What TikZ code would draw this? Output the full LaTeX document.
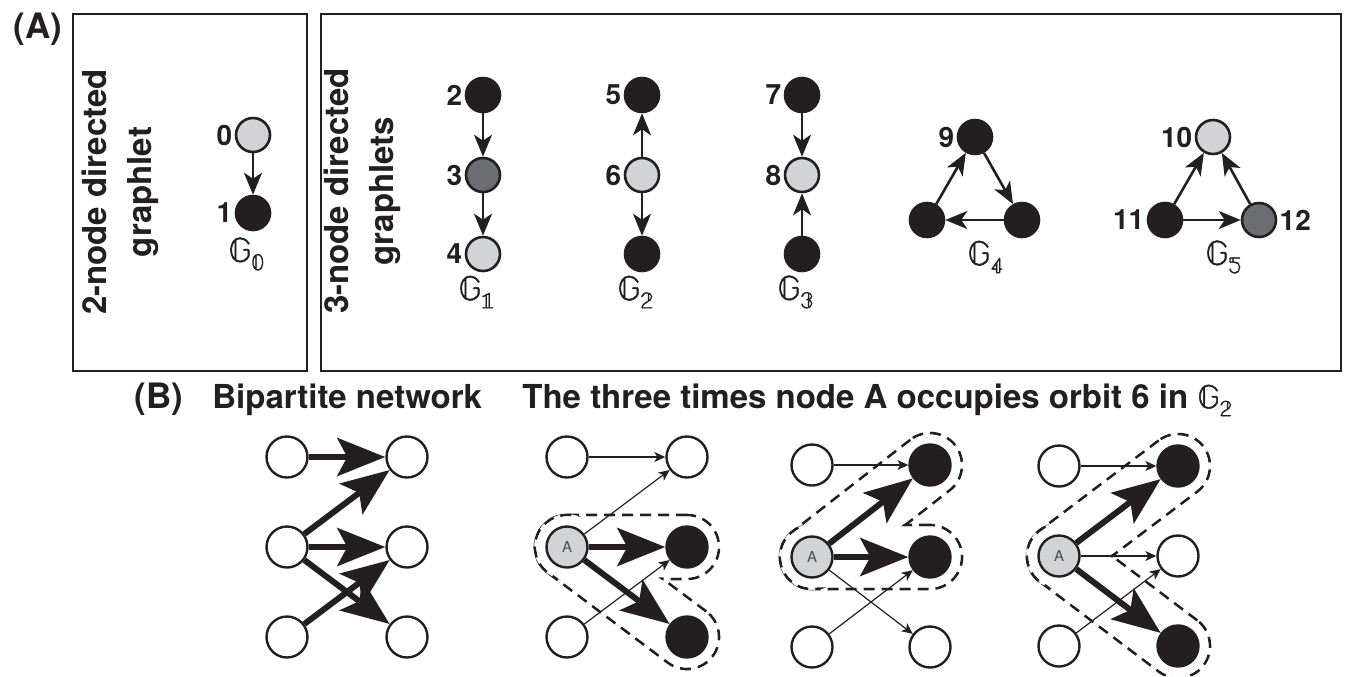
\documentclass[tikz,border=0pt]{standalone}
\usepackage{fontspec}
\usepackage{unicode-math}
\setmainfont{TeX Gyre Heros}
\setmathfont{Latin Modern Math}[FakeBold=1.5]
\usetikzlibrary{arrows.meta,calc}

\definecolor{ink}{HTML}{231F20}
\definecolor{lightnode}{HTML}{D1D3D4}
\definecolor{darknode}{HTML}{6D6E71}

\tikzset{
  frame/.style={draw=ink, line width=1.2pt},
  gnode/.style={circle, draw=ink, line width=1.3pt, minimum size=17pt, inner sep=0pt},
  blk/.style={gnode, fill=ink},
  lgt/.style={gnode, fill=lightnode},
  drk/.style={gnode, fill=darknode},
  garc/.style={draw=ink, line width=1.3pt, -{Stealth[length=11pt,width=9pt,inset=3pt]}},
  num/.style={font=\bfseries\fontsize{14}{14}\selectfont, text=ink, inner sep=1pt},
  glabel/.style={font=\fontsize{17}{17}\selectfont, text=ink, inner sep=0pt},
  vtitle/.style={rotate=90, align=center, text=ink, font=\bfseries\fontsize{16.5}{22.5}\selectfont},
  htitle/.style={anchor=base west, inner sep=0pt, text=ink, font=\bfseries\fontsize{16.5}{16.5}\selectfont},
  plabel/.style={htitle, font=\bfseries\fontsize{17.5}{17.5}\selectfont},
  bnode/.style={circle, draw=ink, line width=1.2pt, minimum size=20.5pt, inner sep=0pt, fill=white},
  wnode/.style={bnode},
  knode/.style={bnode, fill=ink},
  anode/.style={bnode, fill=lightnode, text=ink!80, font=\fontsize{7.5}{7.5}\selectfont},
  thk/.style={draw=ink, line width=3pt, -{Stealth[length=24pt,width=19pt,inset=5pt]}},
  thn/.style={draw=ink, line width=0.6pt, -{Stealth[length=5.5pt,width=5pt,inset=1.5pt]}},
  hulldash/.style={draw=ink, line width=1.3pt, dash pattern=on 5.5pt off 3.5pt},
  hullline/.style={rectangle, hulldash, minimum height=32pt, rounded corners=16pt,
    inner sep=0pt, outer sep=0pt},
  hullfill/.style={rectangle, fill=white, minimum height=30.4pt, rounded corners=15.2pt,
    inner sep=0pt, outer sep=0pt},
}

% dashed capsule round two points (its cap round the first point left out),
% and the capsule's white interior
\newcommand\hullline[2]{%
  \begin{scope}[even odd rule]
    \clip (0,0) rectangle (1349,676) (#1) circle[radius=33];
    \path let \p1=($(#2)-(#1)$), \n1={atan2(\y1,\x1)}, \n2={veclen(\x1,\y1)} in
      ($(#1)!0.5!(#2)$) node[hullline, minimum width=\n2+32pt, rotate=\n1] {};
  \end{scope}}
\newcommand\hullfill[2]{%
  \path let \p1=($(#2)-(#1)$), \n1={atan2(\y1,\x1)}, \n2={veclen(\x1,\y1)} in
    ($(#1)!0.5!(#2)$) node[hullfill, minimum width=\n2+30.4pt, rotate=\n1] {};}
% a hull enclosing a hub and two of its neighbours
\newcommand\hulltriple[3]{%
  \draw[hulldash] (#1) circle[radius=32];
  \hullline{#1}{#2}
  \hullline{#1}{#3}
  \hullfill{#1}{#2}
  \hullfill{#1}{#3}
  \fill[white] (#1) circle[radius=30.4];}

\begin{document}
\begin{tikzpicture}[x=0.5pt,y=-0.5pt]
\useasboundingbox (0,0) rectangle (1349,676);

% ---------- (A) graphlets ----------
\node[plabel] (labA) at (13,38) {(A)};
\draw[frame] (73,14) rectangle (307,371);
\draw[frame] (321,14) rectangle (1341,371);

\node[vtitle] (t2) at (120,192) {2-node directed\\graphlet};
\node[vtitle] (t3) at (362,191) {3-node directed\\graphlets};

% G0
\node[lgt] (n0) at (253,135) {};
\node[blk] (n1) at (253,213) {};
\draw[garc] (n0) -- (n1);
\node[num, anchor=east] (l0) at (n0.west) {0};
\node[num, anchor=east] (l1) at (n1.west) {1};
\node[glabel] (g0) at (247,254) {$\mathbb{G}_{\mathbb{0}}$};

% G1
\node[blk] (n2) at (483,95) {};
\node[drk] (n3) at (483,175) {};
\node[lgt] (n4) at (483,254) {};
\draw[garc] (n2) -- (n3);
\draw[garc] (n3) -- (n4);
\node[num, anchor=east] (l2) at (n2.west) {2};
\node[num, anchor=east] (l3) at (n3.west) {3};
\node[num, anchor=east] (l4) at (n4.west) {4};
\node[glabel] (g1) at (477,292) {$\mathbb{G}_{\mathbb{1}}$};

% G2
\node[blk] (n5) at (642,95) {};
\node[lgt] (n6) at (642,175) {};
\node[blk] (n6b) at (642,254) {};
\draw[garc] (n6) -- (n5);
\draw[garc] (n6) -- (n6b);
\node[num, anchor=east] (l5) at (n5.west) {5};
\node[num, anchor=east] (l6) at (n6.west) {6};
\node[glabel] (g2) at (636,292) {$\mathbb{G}_{\mathbb{2}}$};

% G3
\node[blk] (n7) at (802,95) {};
\node[lgt] (n8) at (802,175) {};
\node[blk] (n8b) at (802,254) {};
\draw[garc] (n7) -- (n8);
\draw[garc] (n8b) -- (n8);
\node[num, anchor=east] (l7) at (n7.west) {7};
\node[num, anchor=east] (l8) at (n8.west) {8};
\node[glabel] (g3) at (796,292) {$\mathbb{G}_{\mathbb{3}}$};

% G4
\node[blk] (n9) at (975,137) {};
\node[blk] (n9l) at (927,220) {};
\node[blk] (n9r) at (1022,220) {};
\draw[garc] (n9l) -- (n9);
\draw[garc] (n9) -- (n9r);
\draw[garc] (n9r) -- (n9l);
\node[num, anchor=east] (l9) at (n9.west) {9};
\node[glabel] (g4) at (986,257) {$\mathbb{G}_{\mathbb{4}}$};

% G5
\node[lgt] (n10) at (1213,137) {};
\node[blk] (n11) at (1165,220) {};
\node[drk] (n12) at (1259,220) {};
\draw[garc] (n11) -- (n10);
\draw[garc] (n12) -- (n10);
\draw[garc] (n11) -- (n12);
\node[num, anchor=east] (l10) at (n10.west) {10};
\node[num, anchor=east] (l11) at (n11.west) {11};
\node[num, anchor=west] (l12) at (n12.east) {12};
\node[glabel] (g5) at (1224,257) {$\mathbb{G}_{\mathbb{5}}$};

% ---------- (B) orbit counting ----------
\node[plabel] (labB) at (134,408) {(B)};
\node[htitle] (tB1) at (212,408) {Bipartite network};
\node[htitle] (tB2) at (522,408) {The three times node A occupies orbit 6 in $\mathbb{G}_{\mathbb{2}}$};

% bipartite network
\node[wnode] (a1) at (287,457) {};
\node[wnode] (a2) at (287,547) {};
\node[wnode] (a3) at (287,637) {};
\node[wnode] (b1) at (407,457) {};
\node[wnode] (b2) at (407,547) {};
\node[wnode] (b3) at (407,637) {};
\draw[thk] (a1) -- (b1);
\draw[thk] (a2) -- (b1);
\draw[thk] (a2) -- (b2);
\draw[thk] (a3) -- (b2);
\draw[thk] (a2) -- (b3);

% first occurrence
\coordinate (c1) at (567,457);
\coordinate (c2) at (567,547);
\coordinate (c3) at (567,637);
\coordinate (d1) at (687,457);
\coordinate (d2) at (687,547);
\coordinate (d3) at (687,637);
\hulltriple{c2}{d2}{d3}
\node[wnode] (p1) at (c1) {};
\node[anode] (pA) at (c2) {A};
\node[wnode] (p3) at (c3) {};
\node[wnode] (q1) at (d1) {};
\node[knode] (q2) at (d2) {};
\node[knode] (q3) at (d3) {};
\draw[thn] (p1) -- (q1);
\draw[thn] (pA) -- (q1);
\draw[thn] (p3) -- (q2);
\draw[thk] (pA) -- (q2);
\draw[thk] (pA) -- (q3);

% second occurrence
\coordinate (e1) at (812,465);
\coordinate (e2) at (812,557);
\coordinate (e3) at (812,647);
\coordinate (f1) at (930,465);
\coordinate (f2) at (930,557);
\coordinate (f3) at (930,647);
\hulltriple{e2}{f1}{f2}
\node[wnode] (r1) at (e1) {};
\node[anode] (rA) at (e2) {A};
\node[wnode] (r3) at (e3) {};
\node[knode] (s1) at (f1) {};
\node[knode] (s2) at (f2) {};
\node[wnode] (s3) at (f3) {};
\draw[thn] (r1) -- (s1);
\draw[thn] (rA) -- (s3);
\draw[thn] (r3) -- (s2);
\draw[thk] (rA) -- (s1);
\draw[thk] (rA) -- (s2);

% third occurrence
\coordinate (h1) at (1059,466);
\coordinate (h2) at (1059,556);
\coordinate (h3) at (1059,646);
\coordinate (k1) at (1178,466);
\coordinate (k2) at (1178,556);
\coordinate (k3) at (1178,646);
\hulltriple{h2}{k1}{k3}
\node[wnode] (u1) at (h1) {};
\node[anode] (uA) at (h2) {A};
\node[wnode] (u3) at (h3) {};
\node[knode] (v1) at (k1) {};
\node[wnode] (v2) at (k2) {};
\node[knode] (v3) at (k3) {};
\draw[thn] (u1) -- (v1);
\draw[thn] (uA) -- (v2);
\draw[thn] (u3) -- (v2);
\draw[thk] (uA) -- (v1);
\draw[thk] (uA) -- (v3);
\end{tikzpicture}
\end{document}
